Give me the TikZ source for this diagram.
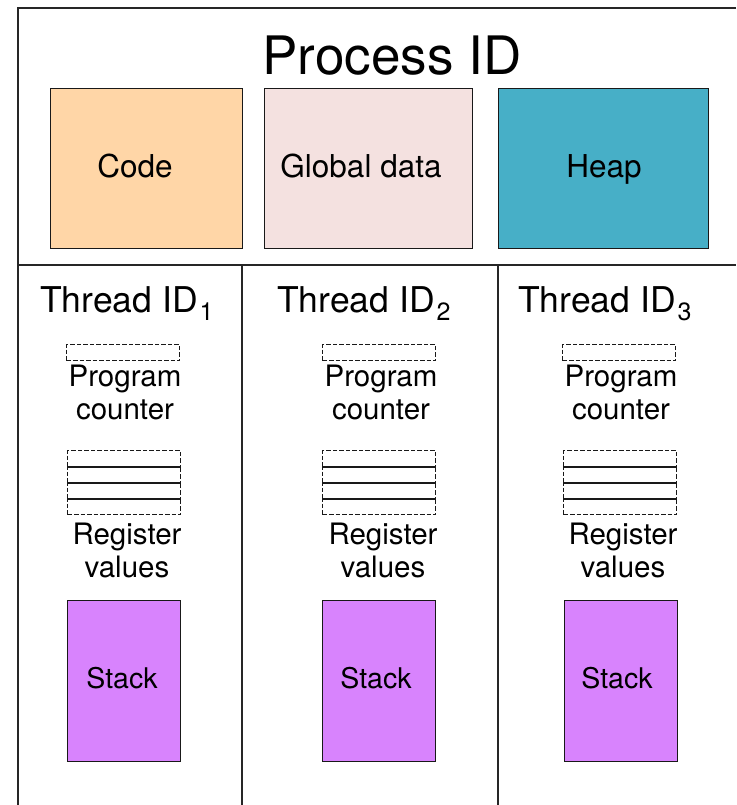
\documentclass[tikz,border=0pt]{standalone}
\usepackage{fontspec}
\setmainfont{TeX Gyre Heros}
\definecolor{codec}{HTML}{FFD6A7}
\definecolor{globc}{HTML}{F4E1E0}
\definecolor{heapc}{HTML}{47AFC7}
\definecolor{stackc}{HTML}{D883FD}
\begin{document}
\begin{tikzpicture}[x=1pt,y=-1pt,
  frame/.style={draw=black!85, line width=1.6pt},
  membox/.style={draw=black!90, line width=1.3pt, anchor=north west, inner sep=0pt},
  dbox/.style={draw=black!90, line width=1.4pt, dash pattern=on 4.5pt off 2pt, anchor=north west, inner sep=0pt},
  bigtxt/.style={font=\fontsize{53}{60}\selectfont, anchor=base, inner sep=0pt},
  boxtxt/.style={font=\fontsize{31.5}{36}\selectfont, anchor=base, inner sep=0pt},
  thr/.style={font=\fontsize{35.5}{40}\selectfont, anchor=base west, inner sep=0pt},
  smalltxt/.style={font=\fontsize{29.5}{33}\selectfont, align=center, inner sep=0pt},
  ]
\useasboundingbox (0,0) rectangle (736,805);
% frame
\coordinate (ftr) at (736,8);
\coordinate (ftl) at (18,8);
\coordinate (fbl) at (18,805);
\coordinate (dl) at (18,265);
\coordinate (dr) at (736,265);
\coordinate (v1t) at (242,265);
\coordinate (v1b) at (242,805);
\coordinate (v2t) at (498,265);
\coordinate (v2b) at (498,805);
\draw[frame] (ftr) -- (ftl) -- (fbl);
\draw[frame] (dl) -- (dr);
\draw[frame] (v1t) -- (v1b);
\draw[frame] (v2t) -- (v2b);
% process part
\node[bigtxt] (pid) at (392,75) {Process ID};
\node[membox, fill=codec, minimum width=192pt, minimum height=160pt] (code) at (50,88) {};
\node[membox, fill=globc, minimum width=208pt, minimum height=160pt] (glob) at (264,88) {};
\node[membox, fill=heapc, minimum width=210pt, minimum height=160pt] (heap) at (498,88) {};
\node[boxtxt] (codet) at (135,178) {Code};
\node[boxtxt] (globt) at (361,178) {Global data};
\node[boxtxt] (heapt) at (604,178) {Heap};
% threads
\foreach \i/\tx/\px/\rx/\sx/\pc/\rc/\sc in {1/40/66/67/67/125/127/122, 2/277/322/322/322/381/383/376, 3/518/562/563/564/621/623/617}{
  \node[thr] (th\i) at (\tx,312) {Thread ID\kern2pt\raisebox{-8pt}{\fontsize{25}{25}\selectfont \i}};
  \node[dbox, minimum width=113pt, minimum height=16pt] (pc\i) at (\px,344) {};
  \node[smalltxt] (pct\i) at (\pc,392) {Program\\counter};
  \foreach \r in {0,1,2,3}{
    \node[dbox, minimum width=113pt, minimum height=16pt] (reg\i\r) at (\rx,450+16*\r) {};
  }
  \draw[line width=1.4pt, black!90] (reg\i0.south west) -- (reg\i0.south east);
  \draw[line width=1.4pt, black!90] (reg\i1.south west) -- (reg\i1.south east);
  \draw[line width=1.4pt, black!90] (reg\i2.south west) -- (reg\i2.south east);
  \node[smalltxt] (rgt\i) at (\rc,550) {Register\\values};
  \node[membox, fill=stackc, minimum width=113pt, minimum height=161pt] (st\i) at (\sx,600) {};
  \node[font=\fontsize{28.5}{33}\selectfont, anchor=base, inner sep=0pt] (stt\i) at (\sc,688) {Stack};
}
\end{tikzpicture}
\end{document}
